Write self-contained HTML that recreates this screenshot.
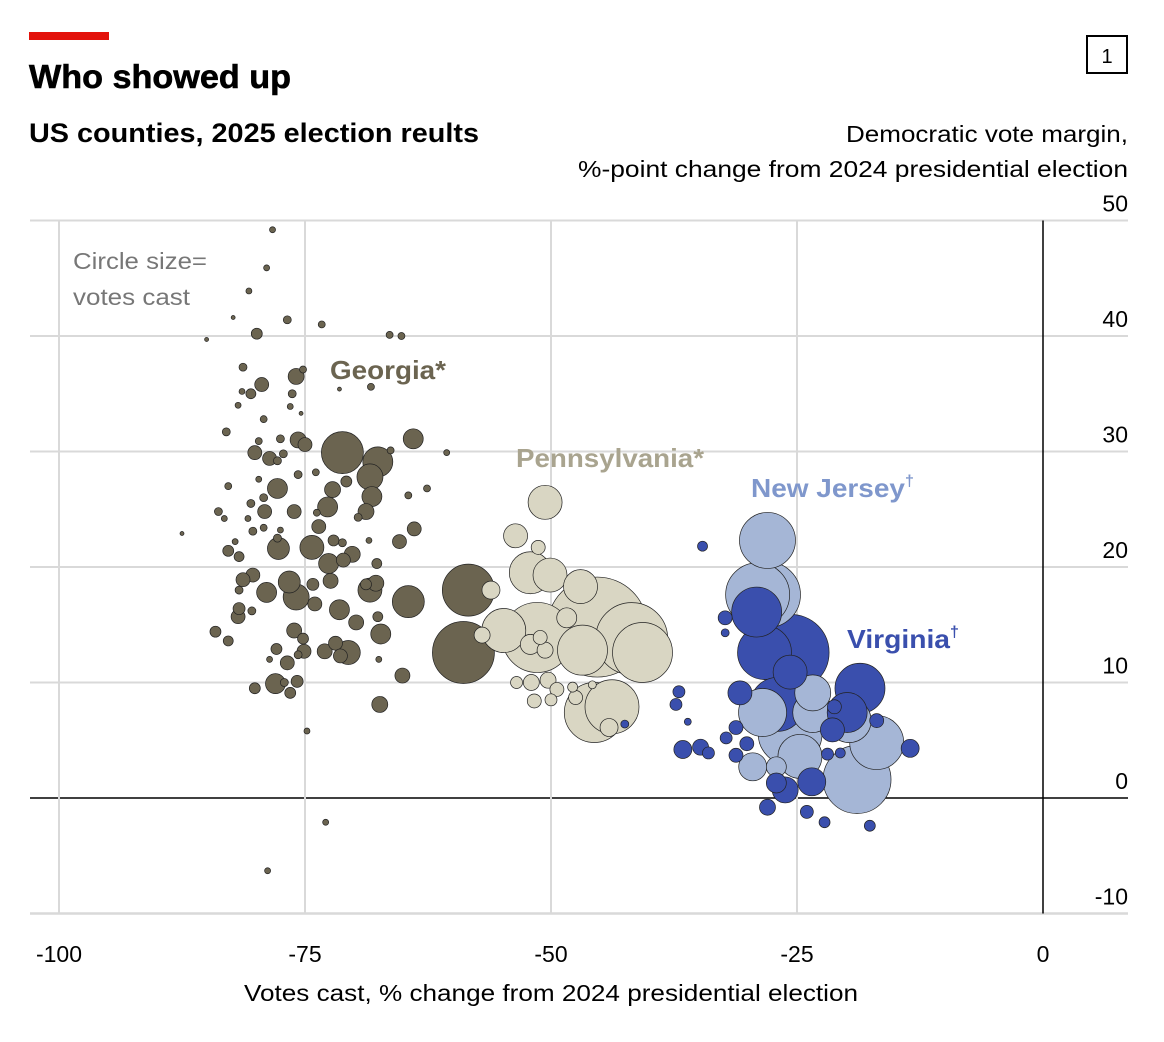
<!DOCTYPE html>
<html><head><meta charset="utf-8"><style>
body{margin:0;background:#fff;}
svg{display:block;font-family:"Liberation Sans",sans-serif;}
</style></head><body>
<svg id="c" width="1164" height="1042">
<rect x="29" y="32" width="80" height="8" fill="#e3120b"/>
<text x="29" y="88" font-size="33" font-weight="bold" stroke="#000" stroke-width="0.6" textLength="262" lengthAdjust="spacingAndGlyphs">Who showed up</text>
<text x="29" y="142" font-size="27" font-weight="bold" textLength="450" lengthAdjust="spacingAndGlyphs">US counties, 2025 election reults</text>
<text x="1128" y="142" font-size="23" text-anchor="end" textLength="282" lengthAdjust="spacingAndGlyphs">Democratic vote margin,</text>
<text x="1128" y="177" font-size="23" text-anchor="end" textLength="550" lengthAdjust="spacingAndGlyphs">%-point change from 2024 presidential election</text>
<rect x="1087" y="36" width="40" height="37" fill="none" stroke="#000" stroke-width="2"/>
<text x="1107" y="63" font-size="20" text-anchor="middle">1</text>
<g id="grid"></g>
<g id="marks"></g>
<g id="labels">
<text x="73" y="269" font-size="23" fill="#777" textLength="134" lengthAdjust="spacingAndGlyphs">Circle size=</text>
<text x="73" y="305" font-size="23" fill="#777" textLength="117" lengthAdjust="spacingAndGlyphs">votes cast</text>
<text x="330" y="379" font-size="26" font-weight="bold" fill="#6b6450" textLength="116" lengthAdjust="spacingAndGlyphs">Georgia*</text>
<text x="516" y="467" font-size="26" font-weight="bold" fill="#a9a48f" textLength="188" lengthAdjust="spacingAndGlyphs">Pennsylvania*</text>
<text x="751" y="497" font-size="26" font-weight="bold" fill="#7f97cc"><tspan textLength="154" lengthAdjust="spacingAndGlyphs">New Jersey</tspan><tspan font-size="16" dy="-11">†</tspan></text>
<text x="847" y="648" font-size="26" font-weight="bold" fill="#3a4fad"><tspan textLength="103" lengthAdjust="spacingAndGlyphs">Virginia</tspan><tspan font-size="16" dy="-11">†</tspan></text>
</g>
<text x="551" y="1001" font-size="23" text-anchor="middle" textLength="614" lengthAdjust="spacingAndGlyphs">Votes cast, % change from 2024 presidential election</text>
</svg>
<script>
const xTicks=[-100,-75,-50,-25,0];
const yTicks=[-10,0,10,20,30,40,50];
const gaX=[-78.3,-78.9,-80.7,-82.3,-76.8,-73.3,-85,-79.9,-66.4,-65.2,-81.3,-75.9,-75.2,-79.4,-80.5,-81.4,-76.3,-81.8,-76.5,-75.4,-71.5,-68.3,-79.2,-83,-79.7,-77.5,-75.7,-75,-71.2,-67.6,-68.4,-64,-66.3,-60.6,-80.1,-78.6,-77.2,-77.8,-79.7,-75.7,-73.9,-77.8,-82.8,-79.2,-72.2,-70.8,-72.7,-68.2,-68.8,-69.6,-64.5,-62.6,-80.5,-83.8,-83.2,-79.1,-76.1,-80.8,-80.3,-79.2,-77.5,-73.8,-73.6,-87.5,-74.3,-77.7,-77.8,-72.1,-71.2,-70.2,-71.1,-72.6,-68.5,-65.4,-63.9,-82.1,-82.8,-81.7,-67.7,-80.3,-81.3,-81.7,-78.9,-76.6,-75.9,-74.2,-72.4,-68.4,-67.8,-68.8,-64.5,-74,-71.5,-69.8,-67.6,-81.7,-81.8,-80.4,-67.3,-84.1,-82.8,-76.1,-75.2,-77.9,-75.1,-73,-71.9,-70.6,-71.4,-78.6,-76.8,-75.7,-67.5,-65.1,-78,-77.1,-75.8,-80.1,-76.5,-67.4,-74.8,-72.9,-78.8,-58.4,-58.9];
const gaY=[49.2,45.9,43.9,41.6,41.4,41,39.7,40.2,40.1,40,37.3,36.5,37.1,35.8,35,35.2,35,34,33.9,33.3,35.4,35.6,32.8,31.7,30.9,31.1,31,30.6,29.9,29.1,27.8,31.1,30.1,29.9,29.9,29.4,29.8,29.2,27.6,28,28.2,26.8,27,26,26.7,27.4,25.2,26.1,24.8,24.3,26.2,26.8,25.5,24.8,24.2,24.8,24.8,24.2,23.1,23.4,23.2,24.7,23.5,22.9,21.7,21.6,22.5,22.3,22.1,21.1,20.6,20.3,22.3,22.2,23.3,22.2,21.4,20.9,20.3,19.3,18.9,18,17.8,18.7,17.4,18.5,18.8,18,18.6,18.5,17,16.8,16.3,15.2,15.7,16.4,15.7,16.2,14.2,14.4,13.6,14.5,13.8,12.9,12.7,12.7,13.4,12.6,12.3,12,11.7,12.4,12,10.6,9.9,10,10.1,9.5,9.1,8.1,5.8,-2.1,-6.3,18,12.6];
const gaR=[3,3,3,2,4,3.5,2,5.5,3.5,3.5,4,8,3.5,7,5,3,4,3,3,2,2,3.5,3.5,4,3.5,4,8,7,21,15,13,10,3.5,3,7,7,4,4,3,4,3.5,10,3.5,4,8,5.5,10,10,8,4,3.5,3.5,4,4,3,7,7,3,4,3.5,3,3.5,7,2,12,11,4,5.5,4,8,7,10,3,7,7,3,5.5,5,5,7,7,4,10,11,13,6,7.5,12,8,5.5,16,7,10,7.5,5,6,7,4,10,5.5,5,7.5,5.5,5.5,7,7.5,7,12,7,3,7,4,3,7.5,10,4,6,5.5,5.5,8,3,3,3,26,31];
const paX=[-50.6,-53.6,-51.3,-52.1,-50.1,-47,-45.3,-41.8,-40.7,-51.4,-54.8,-46.8,-43.8,-45.6,-56.1,-57,-48.4,-50.6,-52,-50.3,-49.4,-51.7,-53.5,-47.5,-47.8,-50,-44.1,-45.8,-52.1,-51.1];
const paY=[25.6,22.7,21.7,19.5,19.3,18.3,14.8,13.8,12.6,13.9,14.5,12.8,7.9,7.4,18,14.1,15.6,12.8,10,10.2,9.4,8.4,10,8.7,9.6,8.5,6.1,9.8,13.3,13.9];
const paR=[17,12,7,21,17,17,50,36,30,35,22,25,27,30,9,8,10,8,8,8,7,7,6,7,5,6,9,4,10,7];
const njX=[-28,-28,-29,-25.7,-24.7,-18.9,-16.9,-29.5,-27.1,-28.5,-23.4,-19.7,-23.4];
const njY=[22.3,17.6,17.6,5.6,3.6,1.6,4.8,2.7,2.7,7.4,7.4,6.7,9.1];
const njR=[28,33,32,32,22,34,27,14,10,24,20,22,18];
const vaX=[-34.6,-29.1,-28.3,-25.6,-25.7,-27,-18.6,-19.9,-30.8,-32.3,-32.3,-37,-37.3,-36.1,-36.6,-34.8,-34,-32.2,-31.2,-31.2,-30.1,-26.2,-23.5,-28,-24,-22.2,-17.6,-13.5,-21.4,-21.9,-20.6,-21.2,-27.1,-16.9,-42.5];
const vaY=[21.8,16.1,12.6,12.6,10.9,8.1,9.5,7.4,9.1,15.6,14.3,9.2,8.1,6.6,4.2,4.4,3.9,5.2,6.1,3.7,4.7,0.7,1.4,-0.8,-1.2,-2.1,-2.4,4.3,5.9,3.8,3.9,7.9,1.3,6.7,6.4];
const vaR=[5,25,27,38,17,27,25,20,12,7,4,6,6,3.5,9,8,6,6,7,7,7,13,14,8,6.5,5.5,5.5,9,12,6,5,7,10,7,4];

const NS='http://www.w3.org/2000/svg';
const X0=1043,XS=9.84,Y0=798,YS=11.55;
function sx(v){return X0+v*XS;}
function sy(v){return Y0-v*YS;}
const grid=document.getElementById('grid');
yTicks.forEach(t=>{
  const l=document.createElementNS(NS,'line');
  l.setAttribute('x1',30);l.setAttribute('x2',1128);
  l.setAttribute('y1',sy(t));l.setAttribute('y2',sy(t));
  l.setAttribute('stroke',t===0?'#000':'#d9d9d9');
  l.setAttribute('stroke-width',t===0?1.5:(t===-10?2.5:2));
  
  
  grid.appendChild(l);
  const tx=document.createElementNS(NS,'text');
  tx.setAttribute('x',1128);tx.setAttribute('y',sy(t)-9);
  tx.setAttribute('text-anchor','end');tx.setAttribute('font-size','23');
  tx.textContent=t;
  
  
  grid.appendChild(tx);
});
xTicks.forEach(t=>{
  const l=document.createElementNS(NS,'line');
  l.setAttribute('x1',sx(t));l.setAttribute('x2',sx(t));
  l.setAttribute('y1',sy(50));l.setAttribute('y2',sy(-10));
  l.setAttribute('stroke',t===0?'#000':'#d9d9d9');
  l.setAttribute('stroke-width',t===0?1.5:2);
  
  
  grid.appendChild(l);
  const tx=document.createElementNS(NS,'text');
  tx.setAttribute('x',sx(t));tx.setAttribute('y',962);
  tx.setAttribute('text-anchor','middle');tx.setAttribute('font-size','23');
  tx.textContent=t;
  
  
  grid.appendChild(tx);
});
const pts=[];
function add(xs,ys,rs,col,name){xs.forEach((x,i)=>pts.push({x:x,y:ys[i],r:rs[i],c:col,n:name}));}
add(gaX,gaY,gaR,'#6b6450','georgia-county-bubble');
add(paX,paY,paR,'#d9d6c3','pennsylvania-county-bubble');
add(njX,njY,njR,'#a5b6d6','new-jersey-county-bubble');
add(vaX,vaY,vaR,'#3a4fad','virginia-county-bubble');
pts.sort((a,b)=>b.r-a.r);
const marks=document.getElementById('marks');
pts.forEach(p=>{
  const c=document.createElementNS(NS,'circle');
  c.setAttribute('cx',sx(p.x));c.setAttribute('cy',sy(p.y));c.setAttribute('r',p.r);
  c.setAttribute('fill',p.c);c.setAttribute('stroke','#222');c.setAttribute('stroke-width','0.7');
  
  
  marks.appendChild(c);
});
</script>
</body></html>
